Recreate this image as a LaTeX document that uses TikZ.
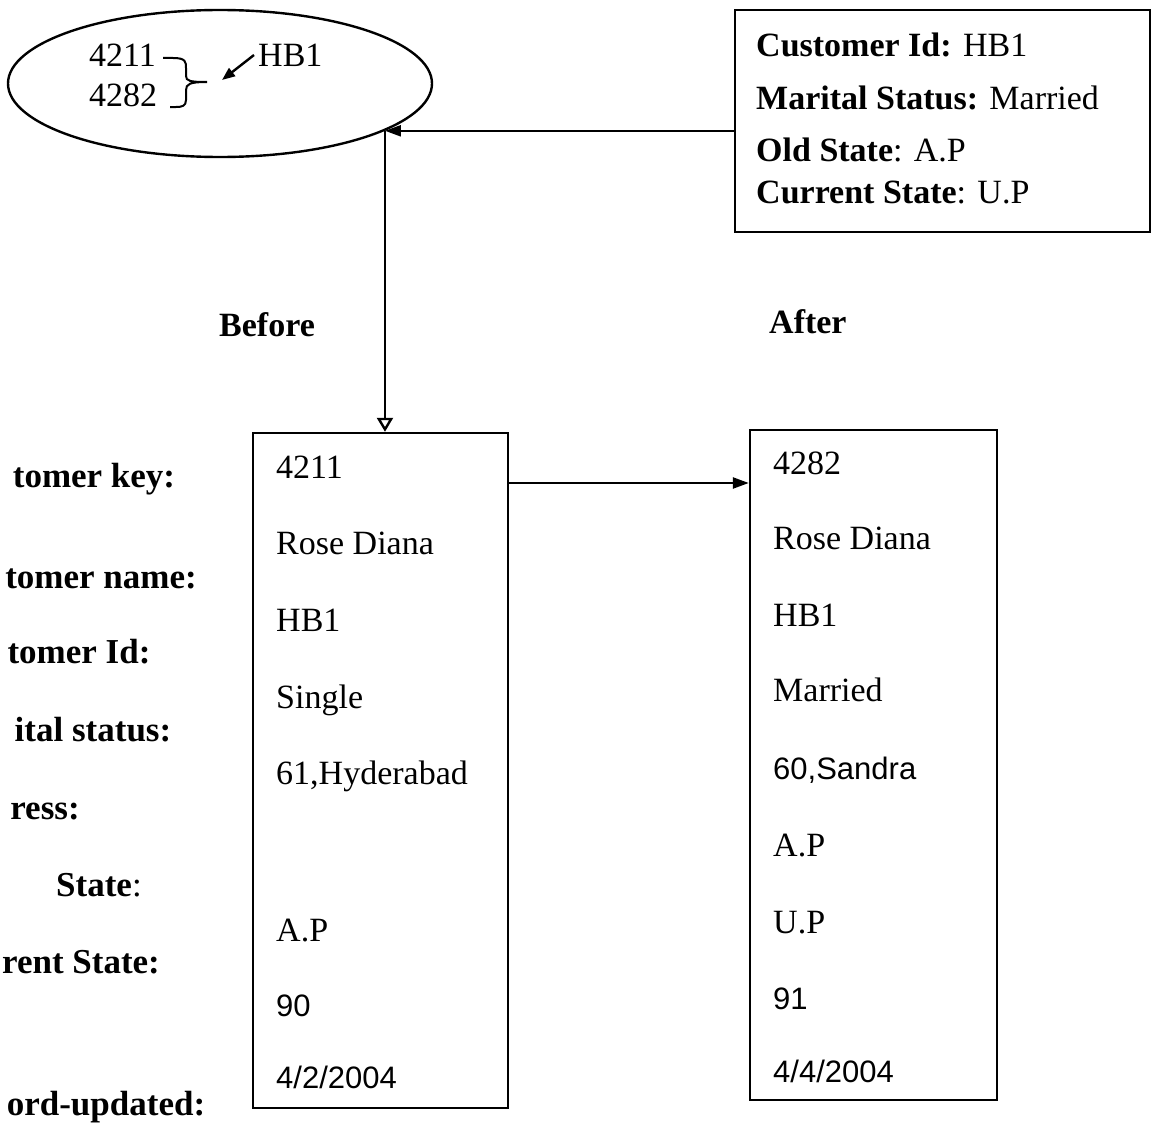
\documentclass[tikz,border=0pt]{standalone}
\usepackage{fontspec}
\setmainfont{Liberation Serif}
\setsansfont{Liberation Sans}
\usetikzlibrary{shapes.geometric,arrows.meta}
\begin{document}
\begin{tikzpicture}[x=1pt,y=-1pt,
  line width=2.4pt,
  txt/.style={inner sep=0pt, anchor=west, text height=23pt, text depth=0pt,
    font=\fontsize{34}{40}\selectfont},
  sanstxt/.style={txt, text height=22pt, font=\fontsize{31}{37}\selectfont\sffamily},
  lbl/.style={inner sep=0pt, anchor=center, text height=23pt, text depth=0pt,
    font=\fontsize{35}{41}\selectfont\bfseries},
  recbox/.style={draw, rectangle, inner sep=0pt},
  fillhead/.style={-{Triangle[length=16pt,width=11pt]}},
  smallhead/.style={-{Triangle[length=13pt,width=10pt]}},
  openhead/.style={-{Triangle[open,length=14pt,width=16pt]}}
]
\useasboundingbox (0,0) rectangle (1154,1132);

% key group
\node[ellipse, draw, inner sep=0pt, minimum width=424pt, minimum height=147pt] (keys) at (220,83.5) {};
\node[txt] (k1) at (88,55) {4211};
\node[txt] (k2) at (88,95) {4282};
\node[txt] (hb) at (257,55) {HB1};
\draw[line width=2pt] (k1.east) ++(6,3) coordinate (b1)
  -- ++(10,0) .. controls (186,58) and (186,62) .. (186,68) -- (186,76)
  .. controls (186,81) and (190,82) .. (207,82) coordinate (bm)
  .. controls (190,82) and (186,84) .. (186,90) -- (186,100)
  .. controls (186,106) and (182,107) .. (176,107) -- (170,107);
\coordinate (bt) at (222,80);
\draw[smallhead] ([xshift=-3pt]hb.west) -- (bt);

% change record
\node[recbox, minimum width=415pt, minimum height=222pt] (change) at (942.5,121) {};
\node[txt] at (755,45) {\textbf{Customer Id:} HB1};
\node[txt] at (755,98) {\textbf{Marital Status:} Married};
\node[txt] at (755,150) {\textbf{Old State}: A.P};
\node[txt] at (755,192) {\textbf{Current State}: U.P};

% headings
\node[txt, font=\fontsize{34}{40}\selectfont\bfseries] at (218,325) {Before};
\node[txt, font=\fontsize{34}{40}\selectfont\bfseries] at (768,322) {After};

% field labels
\node[lbl] at (94,476) {tomer key:};
\node[lbl] at (101,577) {tomer name:};
\node[lbl] at (79,652) {tomer Id:};
\node[lbl] at (93,730) {ital status:};
\node[lbl] at (45,808) {ress:};
\node[lbl, anchor=west] at (55,885) {State\textmd{:}};
\node[lbl] at (81,962) {rent State:};
\node[lbl] at (106,1104) {ord-updated:};

% before row
\node[recbox, minimum width=255pt, minimum height=675pt] (before) at (380.5,770.5) {};
\node[txt] at (275,467) {4211};
\node[txt] at (275,543) {Rose Diana};
\node[txt] at (275,620) {HB1};
\node[txt] at (275,697) {Single};
\node[txt] at (275,773) {61,Hyderabad};
\node[txt] at (275,930) {A.P};
\node[sanstxt] at (275,1005) {90};
\node[sanstxt] at (275,1077) {4/2/2004};

% after row
\node[recbox, minimum width=247pt, minimum height=670pt] (after) at (873.5,765) {};
\node[txt] at (772,463) {4282};
\node[txt] at (772,538) {Rose Diana};
\node[txt] at (772,615) {HB1};
\node[txt] at (772,690) {Married};
\node[sanstxt] at (772,768) {60,Sandra};
\node[txt] at (772,845) {A.P};
\node[txt] at (772,922) {U.P};
\node[sanstxt] at (772,998) {91};
\node[sanstxt] at (772,1071) {4/4/2004};

% connectors
\coordinate (j) at (keys.-16.5);
\draw[fillhead] (change.west |- j) -- (j);
\draw[openhead] (j) -- (j |- before.north);
\draw[fillhead] ([yshift=287.5pt]before.east) coordinate (s) -- (after.west |- s);
\end{tikzpicture}
\end{document}
